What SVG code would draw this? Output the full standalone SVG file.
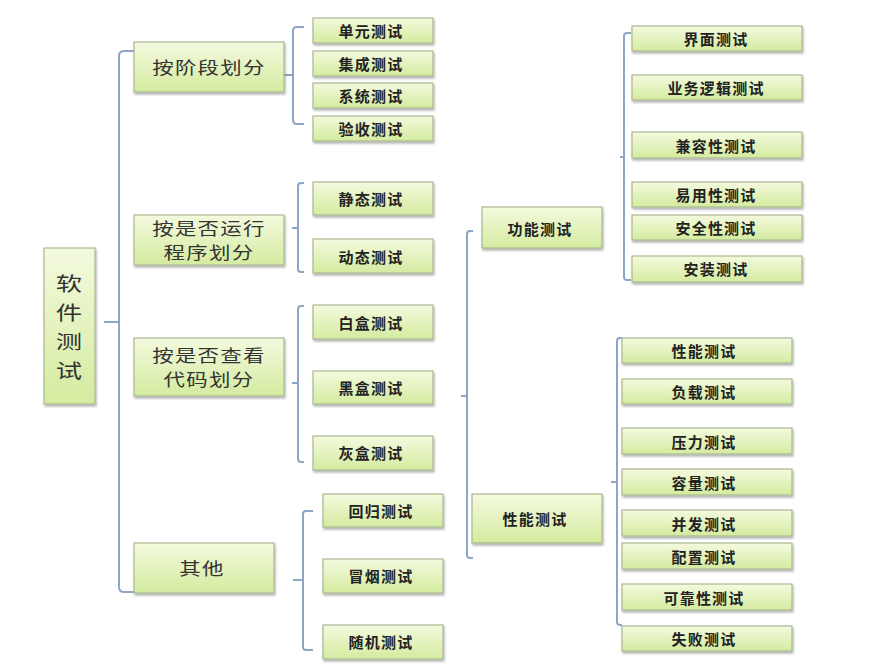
<svg xmlns="http://www.w3.org/2000/svg" width="892" height="667" viewBox="0 0 892 667">
<defs>
<linearGradient id="g" x1="0" y1="0" x2="0" y2="1">
<stop offset="0" stop-color="#f4fadf"/>
<stop offset="1" stop-color="#d4eb9f"/>
</linearGradient>
<filter id="sh" x="-10%" y="-10%" width="125%" height="140%">
<feDropShadow dx="1" dy="2" stdDeviation="1.2" flood-color="#000" flood-opacity="0.3"/>
</filter>
</defs>
<style>
.b{fill:url(#g);stroke:#a9b892;stroke-width:1.2;filter:url(#sh)}
.t{font-family:"Noto Sans CJK SC","Noto Sans",sans-serif;fill:#222;text-anchor:middle;dominant-baseline:central}
.leaf{font-size:15px;font-weight:bold;letter-spacing:1.2px}
.l1{font-size:16.5px;letter-spacing:1px;fill:#333}
.root{font-size:19.5px;fill:#333}
.c{fill:none;stroke:#8ea6c6;stroke-width:2}
</style>
<rect width="892" height="667" fill="#fff"/>
<g id="connectors">
<path class="c" d="M134,51 H124 Q119,51 119,56 V587 Q119,592 124,592 H134 M104,322 H119"/>
<path class="c" d="M304,27 H297 Q293,27 293,31 V120 Q293,124 297,124 H304 M284,75 H293"/>
<path class="c" d="M304,183 H301 Q298,183 298,186 V269 Q298,272 301,272 H304 M292,228 H298"/>
<path class="c" d="M304,306 H301 Q298,306 298,309 V459 Q298,462 301,462 H304 M292,383 H298"/>
<path class="c" d="M313,511 H306 Q303,511 303,514 V647 Q303,650 306,650 H313 M293,580 H303"/>
<path class="c" d="M473,231 H470 Q467,231 467,234 V555 Q467,558 470,558 H473 M461,396 H467"/>
<path class="c" d="M631,33 H627 Q624,33 624,36 V277 Q624,280 627,280 H631 M620,157 H624"/>
<path class="c" d="M622,338 H620 Q617,338 617,341 V622 Q617,625 620,625 H622 M611,482 H617"/>
</g>
<g id="root"><rect class="b" x="44" y="248" width="51" height="156"/>
<g transform="translate(69,0) scale(1.35,1)"><text class="t root" x="0" y="283">软</text><text class="t root" x="0" y="312">件</text><text class="t root" x="0" y="341">测</text><text class="t root" x="0" y="370">试</text></g></g>
<g id="stage"><rect class="b" x="134" y="42" width="150" height="50"/><g transform="translate(209,0) scale(1.3,1)"><text class="t l1" x="0" y="67">按阶段划分</text></g></g>
<g id="run"><rect class="b" x="134" y="215" width="150" height="50"/><g transform="translate(209,0) scale(1.3,1)"><text class="t l1" x="0" y="228">按是否运行</text><text class="t l1" x="0" y="252">程序划分</text></g></g>
<g id="code"><rect class="b" x="134" y="338" width="150" height="58"/><g transform="translate(209,0) scale(1.3,1)"><text class="t l1" x="0" y="355">按是否查看</text><text class="t l1" x="0" y="379">代码划分</text></g></g>
<g id="other"><rect class="b" x="134" y="543" width="140" height="50"/><g transform="translate(202,0) scale(1.3,1)"><text class="t l1" x="0" y="568">其他</text></g></g>
<g id="unit"><rect class="b" x="313" y="18" width="120" height="25"/><text class="t leaf" x="371" y="30">单元测试</text></g>
<g id="integration"><rect class="b" x="313" y="51" width="120" height="25"/><text class="t leaf" x="371" y="63">集成测试</text></g>
<g id="system"><rect class="b" x="313" y="83" width="120" height="25"/><text class="t leaf" x="371" y="95">系统测试</text></g>
<g id="acceptance"><rect class="b" x="313" y="116" width="120" height="25"/><text class="t leaf" x="371" y="128">验收测试</text></g>
<g id="static"><rect class="b" x="313" y="182" width="120" height="33"/><text class="t leaf" x="371" y="198">静态测试</text></g>
<g id="dynamic"><rect class="b" x="313" y="239" width="120" height="34"/><text class="t leaf" x="371" y="256">动态测试</text></g>
<g id="white"><rect class="b" x="313" y="305" width="120" height="34"/><text class="t leaf" x="371" y="322">白盒测试</text></g>
<g id="black"><rect class="b" x="313" y="371" width="120" height="33"/><text class="t leaf" x="371" y="387">黑盒测试</text></g>
<g id="gray"><rect class="b" x="313" y="436" width="120" height="34"/><text class="t leaf" x="371" y="452">灰盒测试</text></g>
<g id="regression"><rect class="b" x="323" y="494" width="120" height="33"/><text class="t leaf" x="381" y="510">回归测试</text></g>
<g id="smoke"><rect class="b" x="323" y="559" width="120" height="34"/><text class="t leaf" x="381" y="575">冒烟测试</text></g>
<g id="random"><rect class="b" x="323" y="625" width="120" height="34"/><text class="t leaf" x="381" y="641">随机测试</text></g>
<g id="functional"><rect class="b" x="482" y="207" width="120" height="41"/><text class="t leaf" x="540" y="228">功能测试</text></g>
<g id="performance"><rect class="b" x="472" y="494" width="130" height="49"/><text class="t leaf" x="535" y="518">性能测试</text></g>
<g id="ui"><rect class="b" x="632" y="26" width="170" height="25"/><text class="t leaf" x="716" y="38">界面测试</text></g>
<g id="logic"><rect class="b" x="632" y="75" width="170" height="25"/><text class="t leaf" x="716" y="87">业务逻辑测试</text></g>
<g id="compat"><rect class="b" x="632" y="132" width="170" height="26"/><text class="t leaf" x="716" y="145">兼容性测试</text></g>
<g id="usability"><rect class="b" x="632" y="182" width="170" height="25"/><text class="t leaf" x="716" y="194">易用性测试</text></g>
<g id="security"><rect class="b" x="632" y="215" width="170" height="25"/><text class="t leaf" x="716" y="227">安全性测试</text></g>
<g id="install"><rect class="b" x="632" y="256" width="170" height="26"/><text class="t leaf" x="716" y="268">安装测试</text></g>
<g id="perf2"><rect class="b" x="622" y="338" width="170" height="25"/><text class="t leaf" x="704" y="350">性能测试</text></g>
<g id="load"><rect class="b" x="622" y="379" width="170" height="25"/><text class="t leaf" x="704" y="391">负载测试</text></g>
<g id="stress"><rect class="b" x="622" y="428" width="170" height="26"/><text class="t leaf" x="704" y="441">压力测试</text></g>
<g id="volume"><rect class="b" x="622" y="469" width="170" height="26"/><text class="t leaf" x="704" y="482">容量测试</text></g>
<g id="concurrency"><rect class="b" x="622" y="510" width="170" height="26"/><text class="t leaf" x="704" y="523">并发测试</text></g>
<g id="config"><rect class="b" x="622" y="543" width="170" height="26"/><text class="t leaf" x="704" y="556">配置测试</text></g>
<g id="reliability"><rect class="b" x="622" y="584" width="170" height="26"/><text class="t leaf" x="704" y="597">可靠性测试</text></g>
<g id="failure"><rect class="b" x="622" y="626" width="170" height="25"/><text class="t leaf" x="704" y="638">失败测试</text></g>
</svg>
